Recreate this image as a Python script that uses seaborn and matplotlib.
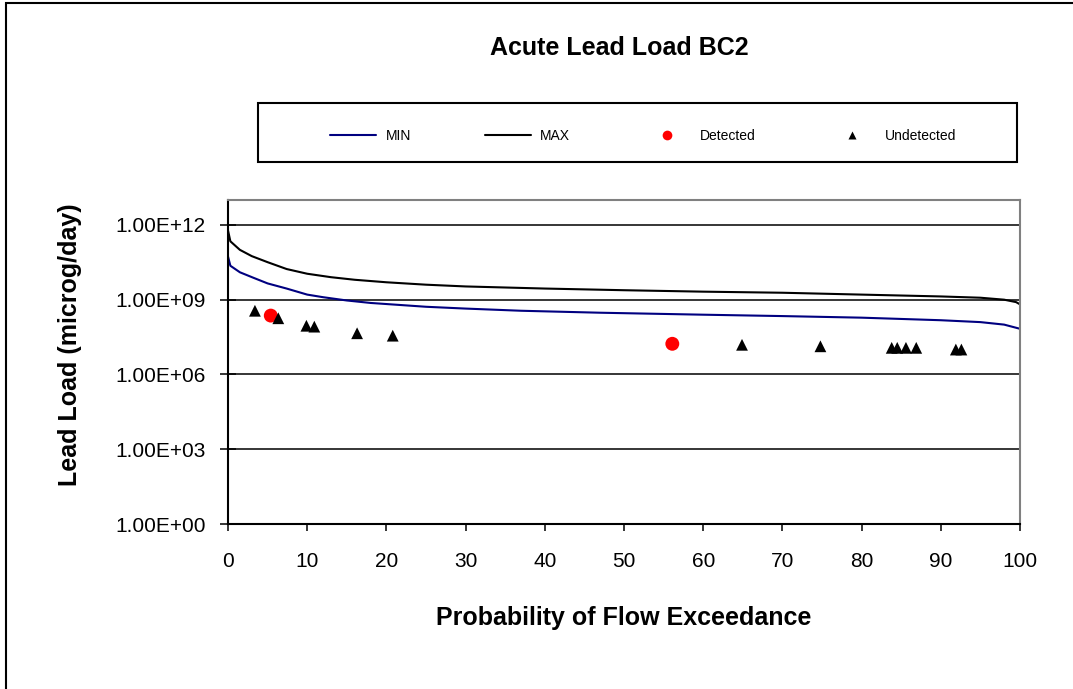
import numpy as np
import pandas as pd
import matplotlib
matplotlib.use('Agg')
import matplotlib.pyplot as plt
import seaborn as sns
from matplotlib.patches import Rectangle
from matplotlib.lines import Line2D
from matplotlib.ticker import NullLocator

# ---- data ----
max_x = [0, 0.3, 1.5, 3, 5, 7.4, 10, 13, 16, 20, 25, 30, 40, 50, 60, 70, 80, 90, 95, 98, 99.5, 100]
max_y = [6e11, 2.2e11, 1e11, 5.6e10, 3.2e10, 1.7e10, 1.1e10, 8e9, 6.3e9, 5e9, 4e9, 3.4e9,
         2.8e9, 2.4e9, 2.1e9, 1.9e9, 1.6e9, 1.35e9, 1.2e9, 1e9, 8e8, 6.5e8]

min_x = [0, 0.3, 1.5, 3.2, 5, 7.4, 10, 12, 15, 18, 25, 30, 37, 47, 60, 70, 80, 90, 95, 98, 100]
min_y = [5.4e10, 2.3e10, 1.26e10, 7.6e9, 4.5e9, 2.8e9, 1.6e9, 1.26e9, 9.3e8, 7.4e8, 5.2e8,
         4.4e8, 3.6e8, 3e8, 2.5e8, 2.2e8, 1.9e8, 1.5e8, 1.26e8, 1e8, 6.8e7]

det_x = [5.4, 56.1]
det_y = [2.3e8, 1.7e7]

undet_x = [3.4, 6.35, 9.9, 10.9, 16.3, 20.8, 64.9, 74.8, 83.8, 84.5, 85.6, 86.9, 91.9, 92.6]
undet_y = [3.6e8, 1.8e8, 9e7, 8.3e7, 4.5e7, 3.6e7, 1.55e7, 1.35e7, 1.17e7, 1.17e7, 1.17e7,
           1.17e7, 1e7, 1e7]

ytick_vals = [1, 1e3, 1e6, 1e9, 1e12]
ytick_labels = ['1.00E+00', '1.00E+03', '1.00E+06', '1.00E+09', '1.00E+12']

sns.set_style('white', rc={'text.color': 'black', 'axes.labelcolor': 'black',
                           'xtick.color': 'black', 'ytick.color': 'black',
                           'xtick.bottom': True, 'ytick.left': True})
plt.rcParams['font.family'] = ['Liberation Sans', 'DejaVu Sans']

W, H = 1073, 689
fig = plt.figure(figsize=(W / 100, H / 100), dpi=100)
ax = fig.add_axes([228 / W, 1 - 524 / H, (1020 - 228) / W, (524 - 200) / H])

sns.lineplot(data=pd.DataFrame({'x': min_x, 'y': min_y}), x='x', y='y', ax=ax,
             color='#000080', lw=1.5, sort=False, estimator=None, legend=False)
sns.lineplot(data=pd.DataFrame({'x': max_x, 'y': max_y}), x='x', y='y', ax=ax,
             color='black', lw=1.5, sort=False, estimator=None, legend=False)
sns.scatterplot(x=det_x, y=det_y, ax=ax, color='red', marker='o', s=100,
                edgecolor='none', zorder=3)
sns.scatterplot(x=undet_x, y=undet_y, ax=ax, color='black', marker='^', s=72,
                edgecolor='none', zorder=4)

ax.set_yscale('log')
ax.set_ylim(1, 1e13)
ax.set_xlim(0, 100)
ax.set_xticks(range(0, 101, 10))
ax.set_yticks(ytick_vals)
ax.set_yticklabels(ytick_labels)
ax.yaxis.set_minor_locator(NullLocator())
ax.grid(axis='y', color='black', lw=1.1)
ax.grid(axis='x', visible=False)

for s in ['left', 'bottom']:
    ax.spines[s].set_color('black')
    ax.spines[s].set_linewidth(1.5)
for s in ['top', 'right']:
    ax.spines[s].set_color('#808080')
    ax.spines[s].set_linewidth(1.5)

ax.tick_params(axis='y', direction='inout', length=12, width=1.1, labelsize=15, pad=10)
ax.tick_params(axis='x', direction='out', length=5, width=1.1, labelsize=15, pad=15)

ax.set_xlabel('Probability of Flow Exceedance', fontsize=18, fontweight='bold')
ax.set_ylabel('Lead Load (microg/day)', fontsize=18, fontweight='bold')
ax.xaxis.set_label_coords(0.5, (524 - 606) / 324)
ax.yaxis.set_label_coords((82 - 228) / 792, 0.552)

fig.text(619 / W, 1 - 48 / H, 'Acute Lead Load BC2', ha='center', va='center',
         fontsize=18, fontweight='bold')

# legend box
fig.add_artist(Rectangle((258 / W, 1 - 162 / H), (1017 - 258) / W, 59 / H,
                         transform=fig.transFigure, fill=False, ec='black', lw=1.5))
handles = [Line2D([], [], color='#000080', lw=1.5),
           Line2D([], [], color='black', lw=1.5),
           Line2D([], [], color='red', marker='o', ls='none', markersize=7, mec='none'),
           Line2D([], [], color='black', marker='^', ls='none', markersize=6, mec='none')]
fig.legend(handles, ['MIN', 'MAX', 'Detected', 'Undetected'], loc='center',
           bbox_to_anchor=(643 / W, 1 - 135.5 / H), ncol=4, frameon=False,
           fontsize=10, handlelength=3.3, handletextpad=0.7, columnspacing=5.3)

# outer chart border (left and top edges visible)
fig.add_artist(Rectangle((6 / W, -0.1), 1.2, 1.1 - 3 / H, transform=fig.transFigure,
                         fill=False, ec='black', lw=1.5))

fig.savefig('out.png', dpi=100)
